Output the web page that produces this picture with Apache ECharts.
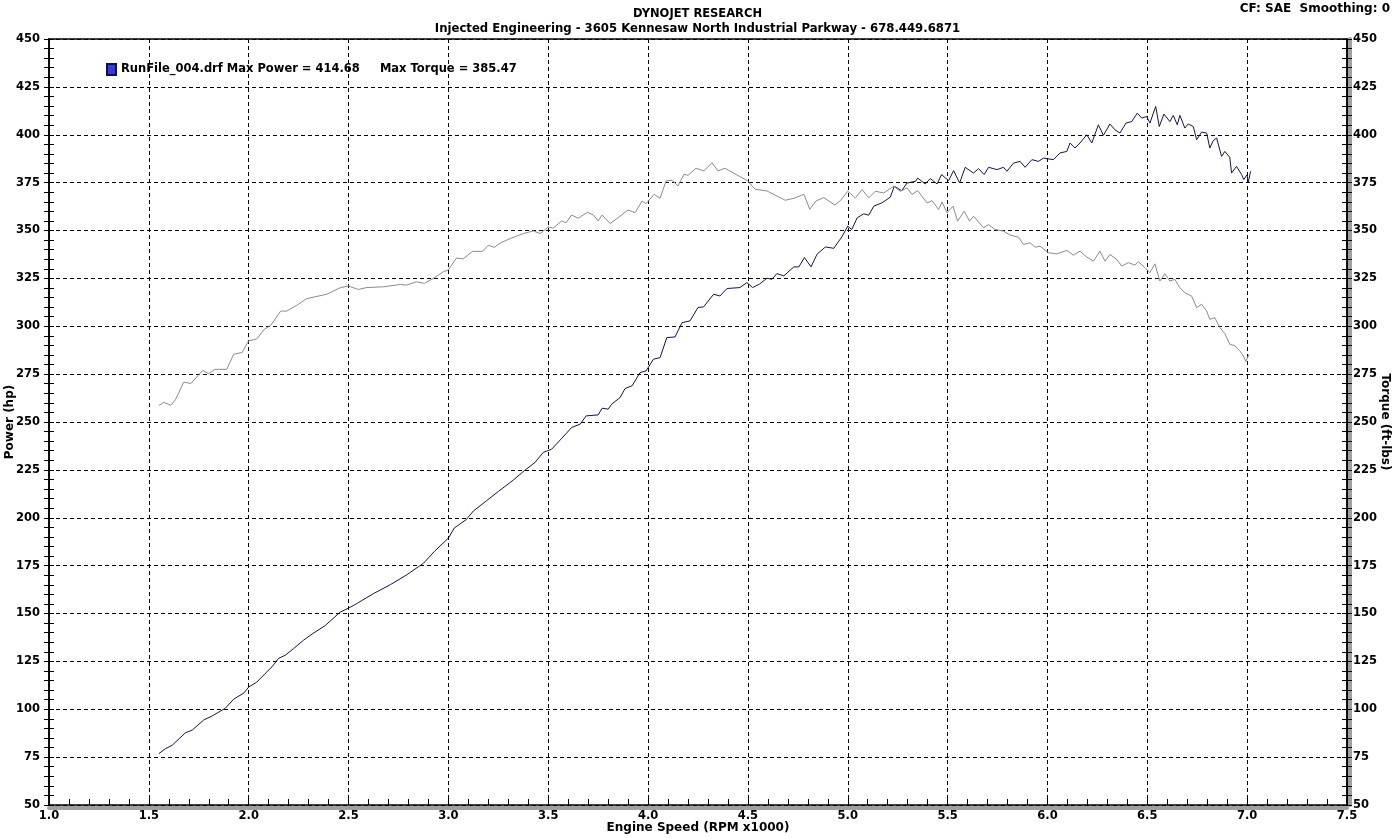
<!DOCTYPE html>
<html>
<head>
<meta charset="utf-8">
<title>Dynojet</title>
<script src="https://cdn.jsdelivr.net/npm/echarts@6/dist/echarts.min.js"></script>
<style>
  html, body { margin: 0; padding: 0; background: #fff; }
  #main { width: 1395px; height: 838px; }
</style>
</head>
<body>
<div id="main"></div>
<script>
// values
var powerRpm = [1.55,1.583,1.617,1.683,1.717,1.775,1.817,1.883,1.925,1.975,2.0,2.04,2.083,2.117,2.15,2.183,2.225,2.275,2.325,2.383,2.458,2.5,2.54,2.625,2.71,2.79,2.875,2.93,3.0,3.03,3.09,3.125,3.19,3.25,3.324,3.383,3.433,3.475,3.517,3.567,3.617,3.66,3.69,3.75,3.77,3.8,3.818,3.86,3.885,3.92,3.96,3.99,4.027,4.06,4.094,4.135,4.17,4.21,4.25,4.278,4.328,4.36,4.395,4.46,4.495,4.523,4.558,4.595,4.62,4.645,4.68,4.73,4.755,4.783,4.816,4.846,4.888,4.93,4.97,5.0,5.02,5.047,5.08,5.105,5.13,5.17,5.213,5.233,5.27,5.297,5.34,5.35,5.388,5.413,5.447,5.47,5.505,5.53,5.56,5.588,5.63,5.655,5.683,5.705,5.747,5.78,5.797,5.83,5.863,5.888,5.922,5.955,5.98,6.03,6.063,6.097,6.113,6.138,6.163,6.197,6.222,6.255,6.28,6.313,6.338,6.363,6.393,6.422,6.45,6.472,6.497,6.513,6.542,6.56,6.583,6.613,6.63,6.65,6.663,6.688,6.705,6.73,6.747,6.772,6.797,6.813,6.83,6.847,6.872,6.888,6.913,6.922,6.947,6.972,6.983,7.0,7.005,7.017];
var powerHp = [76.8,79.4,81.2,87.7,89.1,94.4,96.5,100.5,105.3,108.4,111.6,114.1,118.7,122.2,126.6,128.2,131.7,136.1,139.8,143.7,150.7,152.8,155.1,160.4,165.1,170.1,176.2,182.4,189.4,194.7,199.1,203.5,208.8,213.7,219.6,224.8,228.8,234.1,235.8,241.4,247.1,248.9,253.2,253.7,257.2,256.7,259.3,262.8,267.5,268.9,275.8,276.7,282.8,283.6,294.1,294.4,301.9,302.8,309.8,310.1,316.7,315.8,319.7,320.2,322.8,320.2,322.0,325.1,324.5,327.5,326.3,331.0,331.0,335.9,331.0,337.6,341.4,340.7,346.6,352.3,350.5,356.6,358.7,358.0,362.7,364.4,367.4,373.1,370.8,374.8,375.7,377.4,374.3,377.1,374.3,379.2,376.0,381.3,374.8,383.0,380.0,382.3,379.2,383.0,381.8,383.0,380.9,385.2,386.1,383.0,387.0,386.1,387.8,387.0,390.5,391.3,395.7,393.1,395.7,400.0,395.7,405.2,399.7,405.6,402.6,400.9,406.1,406.9,411.3,408.7,409.5,406.1,414.8,404.3,410.8,406.9,410.1,405.2,410.1,403.5,405.6,404.3,397.4,401.4,400.9,393.1,396.9,398.3,388.7,391.3,388.2,380.0,383.5,379.2,376.6,379.2,374.8,380.9];

var torqueRpm = [1.55,1.575,1.61,1.633,1.675,1.71,1.77,1.80,1.83,1.89,1.925,1.967,2.0,2.04,2.08,2.11,2.16,2.19,2.24,2.29,2.39,2.46,2.5,2.55,2.59,2.675,2.76,2.79,2.84,2.88,2.925,2.975,3.0,3.04,3.075,3.12,3.17,3.2,3.23,3.26,3.31,3.375,3.425,3.46,3.5,3.525,3.567,3.59,3.617,3.65,3.696,3.726,3.75,3.77,3.81,3.85,3.9,3.935,3.97,3.99,4.03,4.06,4.09,4.12,4.15,4.18,4.2,4.24,4.28,4.32,4.35,4.385,4.445,4.495,4.537,4.595,4.645,4.687,4.73,4.78,4.81,4.84,4.88,4.935,4.963,5.0,5.038,5.072,5.105,5.138,5.18,5.23,5.263,5.297,5.322,5.35,5.397,5.422,5.455,5.472,5.497,5.527,5.55,5.583,5.61,5.63,5.68,5.705,5.738,5.78,5.813,5.855,5.88,5.913,5.938,5.963,6.005,6.047,6.097,6.13,6.163,6.197,6.23,6.263,6.288,6.313,6.347,6.372,6.405,6.438,6.455,6.488,6.513,6.538,6.563,6.588,6.613,6.638,6.663,6.688,6.722,6.747,6.772,6.797,6.813,6.838,6.863,6.888,6.913,6.938,6.963,6.98,6.993,7.01];
var torqueFt = [258.6,260.2,258.8,261.6,270.8,270.1,276.9,275.2,277.5,277.5,285.4,286.3,292.4,293.3,298.6,300.4,307.9,307.9,310.9,314.4,316.7,320.2,321.0,319.2,320.2,320.6,321.8,321.5,323.2,322.4,325.0,328.5,329.4,335.6,335.2,339.1,339.1,342.3,341.2,343.5,345.8,348.4,349.8,348.4,351.9,351.2,355.0,354.1,358.1,356.4,359.5,358.1,355.0,358.1,353.6,356.7,360.7,359.3,365.4,364.0,368.9,366.8,375.9,376.2,373.3,379.4,378.8,382.5,381.1,385.4,381.1,382.5,379.0,376.2,371.5,370.7,368.0,365.8,366.8,368.9,361.1,365.4,367.2,363.3,365.6,370.5,367.0,371.4,367.0,370.5,369.6,373.1,370.5,372.2,368.8,370.8,364.4,365.6,360.9,364.9,359.2,362.7,354.9,360.1,354.9,357.5,351.4,353.1,350.5,349.7,347.6,346.5,342.7,343.6,341.3,341.8,338.4,337.8,339.6,337.2,339.2,336.1,334.0,339.2,334.0,337.5,334.9,331.4,333.2,331.9,333.7,330.6,328.0,332.6,323.6,327.4,323.6,324.5,320.1,317.5,315.8,309.7,311.5,308.0,303.6,304.5,299.3,296.2,290.6,289.8,287.2,284.6,281.6,285.4];

var runName = 'RunFile_004.drf';
var maxPowerText = '414.68';
var maxTorqueText = '385.47';

function pairs(xs, ys) {
    var out = [];
    for (var i = 0; i < xs.length; i++) {
        out.push([xs[i], ys[i]]);
    }
    return out;
}

var FONT = 'Verdana, "DejaVu Sans", sans-serif';
var myChart = echarts.init(document.getElementById('main'), null, { renderer: 'canvas' });

function txt(size) {
    return { color: '#000', fontFamily: FONT, fontWeight: 'bold', fontSize: size };
}

function sideAxis(pos, inner, name) {
    var left = pos === 'left';
    return {
        type: 'value',
        position: pos,
        min: 50,
        max: 450,
        interval: 25,
        name: inner ? '' : name,
        nameLocation: 'middle',
        nameGap: left ? 33 : 32,
        nameMoveOverlap: false,
        nameRotate: left ? 90 : -90,
        nameTextStyle: txt(12),
        axisLine: { show: true, onZero: false, lineStyle: { color: '#000', width: 1.5 } },
        axisTick: { show: true, inside: inner, length: 5, lineStyle: { color: '#000' } },
        minorTick: { show: true, splitNumber: 5, length: 5, lineStyle: { color: '#000' } },
        axisLabel: Object.assign({ show: !inner, margin: left ? 9 : 6 }, txt(11.5)),
        splitLine: {
            show: left && !inner,
            lineStyle: { color: '#000', type: [4, 3], width: 1 }
        }
    };
}

// plain axis used only to draw a frame edge / the grey drop shadow
function edge(kind, pos, offset, color, width) {
    var a = {
        type: 'value',
        position: pos,
        offset: offset,
        axisLine: { show: true, onZero: false, lineStyle: { color: color, width: width } },
        axisTick: { show: false },
        axisLabel: { show: false },
        splitLine: { show: false }
    };
    if (kind === 'x') { a.min = 1; a.max = 7.5; a.interval = 0.5; }
    else { a.min = 50; a.max = 450; a.interval = 25; }
    return a;
}

var option = {
    animation: false,
    backgroundColor: '#fff',
    title: [
        { text: 'DYNOJET RESEARCH', left: 'center', top: 3, textStyle: txt(11.5) },
        { text: 'Injected Engineering - 3605 Kennesaw North Industrial Parkway - 678.449.6871',
          left: 'center', top: 18, textStyle: txt(11.7) },
        { text: 'CF: SAE  Smoothing: 0', right: 0, top: -2, textStyle: txt(12) }
    ],
    legend: {
        left: 101,
        top: 58,
        icon: 'rect',
        itemWidth: 9,
        itemHeight: 11,
        data: ['Power'],
        formatter: function () {
            return runName + ' Max Power = ' + maxPowerText + '     Max Torque = ' + maxTorqueText;
        },
        textStyle: txt(11.5)
    },
    grid: {
        show: true,
        left: 49,
        right: 48,
        top: 39,
        bottom: 33,
        outerBoundsMode: 'none',
        containLabel: false,
        backgroundColor: '#fff',
        borderWidth: 0
    },
    xAxis: [
        {
            type: 'value',
            min: 1,
            max: 7.5,
            interval: 0.5,
            name: 'Engine Speed (RPM x1000)',
            nameLocation: 'middle',
            nameGap: 17,
            nameMoveOverlap: false,
            nameTextStyle: txt(12),
            axisLine: { show: true, onZero: false, lineStyle: { color: '#000', width: 1.5 } },
            axisTick: { show: true, inside: true, length: 6, lineStyle: { color: '#000' } },
            minorTick: { show: true, splitNumber: 5, length: 6, lineStyle: { color: '#000' } },
            axisLabel: Object.assign({
                margin: 5,
                formatter: function (v) { return v.toFixed(1); }
            }, txt(11.5)),
            splitLine: { show: true, lineStyle: { color: '#000', type: [4, 3], width: 1 } }
        },
        edge('x', 'top', 0, '#000', 1.5),
        edge('x', 'bottom', 3, '#a0a0a0', 4)
    ],
    yAxis: [
        sideAxis('left', false, 'Power (hp)'),
        sideAxis('right', false, 'Torque (ft-lbs)'),
        sideAxis('left', true, ''),
        sideAxis('right', true, ''),
        edge('y', 'right', 3, '#a0a0a0', 4)
    ],
    series: [
        {
            name: 'Power',
            type: 'line',
            yAxisIndex: 0,
            showSymbol: false,
            symbol: 'none',
            itemStyle: { color: '#3a3ad0', borderColor: '#10104a', borderWidth: 1 },
            lineStyle: { color: '#14144a', width: 1 },
            data: pairs(powerRpm, powerHp)
        },
        {
            name: 'Torque',
            type: 'line',
            yAxisIndex: 0,
            showSymbol: false,
            symbol: 'none',
            lineStyle: { color: '#8a8a96', width: 1 },
            data: pairs(torqueRpm, torqueFt)
        }
    ]
};

myChart.setOption(option);
</script>
</body>
</html>
